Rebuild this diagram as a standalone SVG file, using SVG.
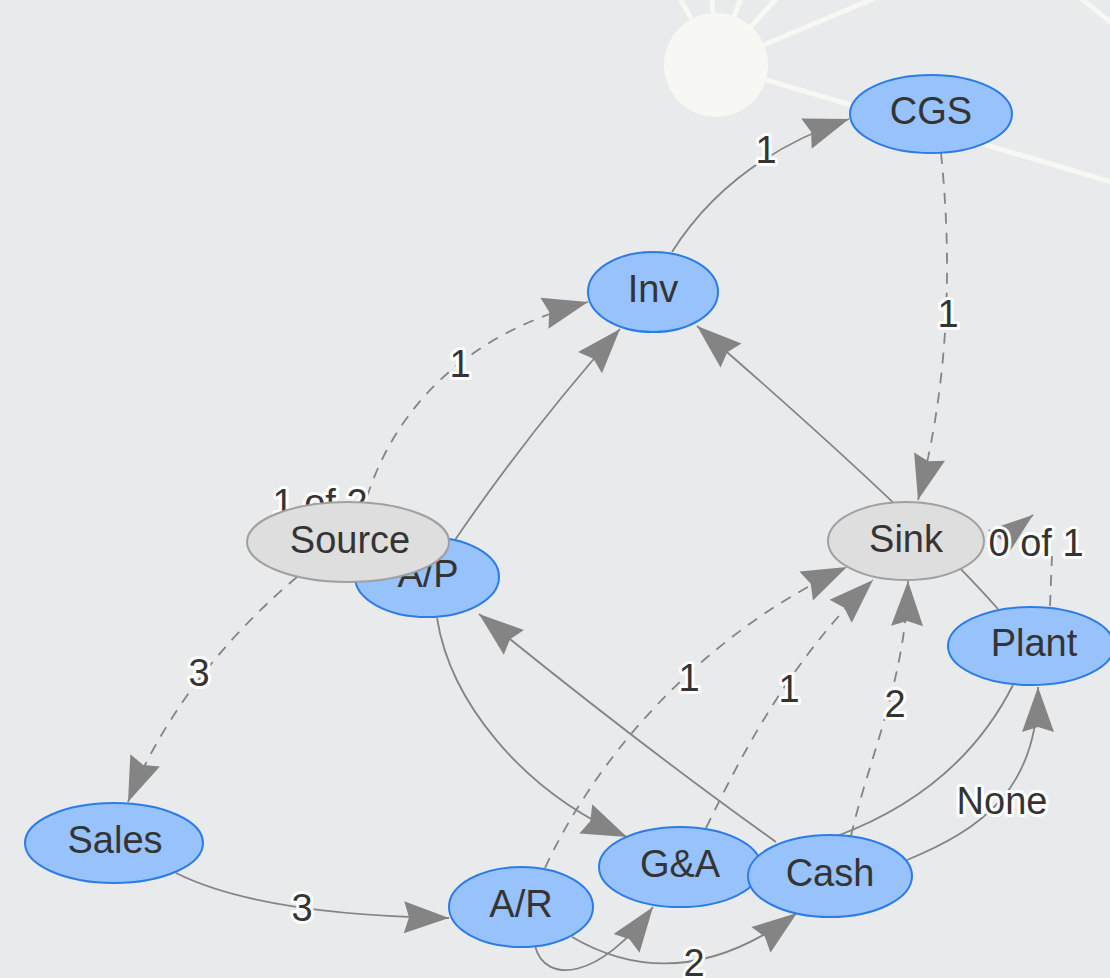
<svg xmlns="http://www.w3.org/2000/svg" width="1110" height="978" viewBox="0 0 1110 978">
  <style>
    .bg { fill: #e9eaec; }
    .hub { fill: #f7f7f3; }
    .spoke { stroke: #f7f7f3; stroke-width: 5; fill: none; }
    .edge { fill: none; stroke: #848484; stroke-width: 1.8; }
    .dash { stroke-dasharray: 11 9; }
    .arrow { marker-end: url(#arrowhead); }
    .elabel { font-family: "Liberation Sans", Arial, sans-serif; font-size: 38px; fill: #343434; text-anchor: middle; stroke: #ffffff; stroke-width: 6; stroke-linejoin: round; paint-order: stroke; }
    .node-blue { fill: #97c2fc; stroke: #2b7ce9; stroke-width: 2; }
    .node-gray { fill: #dedede; stroke: #a0a0a0; stroke-width: 2; }
    .nlabel { font-family: "Liberation Sans", Arial, sans-serif; font-size: 38px; fill: #343434; text-anchor: middle; }
  </style>
  <defs>
    <marker id="arrowhead" markerUnits="userSpaceOnUse" viewBox="-46 -17 47 34" refX="0" refY="0" markerWidth="47" markerHeight="34" orient="auto">
      <path d="M0,0 L-45,16 L-40,0 L-45,-16 Z" fill="#848484"/>
    </marker>
  </defs>

  <rect class="bg" x="0" y="0" width="1110" height="978"/>

  <!-- background hub with its spokes -->
  <g id="hub">
    <line class="spoke" x1="716" y1="65" x2="680" y2="-2"/>
    <line class="spoke" x1="716" y1="65" x2="712" y2="-2"/>
    <line class="spoke" x1="716" y1="65" x2="741" y2="-2"/>
    <line class="spoke" x1="716" y1="65" x2="777" y2="-2"/>
    <line class="spoke" x1="716" y1="65" x2="875" y2="-2"/>
    <line class="spoke" x1="716" y1="65" x2="1115" y2="183"/>
    <line class="spoke" x1="1081" y1="-2" x2="1115" y2="26"/>
    <circle class="hub" cx="716" cy="65" r="52"/>
  </g>

  <!-- connectors -->
  <g id="edges">
    <!-- Inv -> CGS -->
    <path class="edge arrow" d="M672,252 Q730,160 849,119"/>
    <!-- CGS -> Sink -->
    <path class="edge dash arrow" d="M941,153 C952,260 950,380 918,500"/>
    <!-- Source -> Inv -->
    <path class="edge dash arrow" d="M367,497 C400,395 480,330 588,302"/>
    <!-- A/P -> Inv -->
    <path class="edge arrow" d="M455,540 Q530,430 620,329"/>
    <!-- Plant -> Inv (passes behind Sink) -->
    <path class="edge arrow" d="M998,609 Q915,515 697,326"/>
    <!-- Source -> Sales -->
    <path class="edge dash arrow" d="M297,577 C240,625 170,700 128,802"/>
    <!-- Sales -> A/R -->
    <path class="edge arrow" d="M176,873 Q260,915 449,918"/>
    <!-- A/P -> G&A -->
    <path class="edge arrow" d="M437,618 C450,700 520,790 627,837"/>
    <!-- Cash -> A/P -->
    <path class="edge arrow" d="M776,842 Q640,745 479,614"/>
    <!-- A/R -> Sink -->
    <path class="edge dash arrow" d="M545,868 C590,770 690,640 847,567"/>
    <!-- G&A -> Sink -->
    <path class="edge dash arrow" d="M706,828 C730,780 780,670 873,580"/>
    <!-- Cash -> Sink -->
    <path class="edge dash arrow" d="M851,836 C868,760 906,680 908,581"/>
    <!-- Plant -> Cash -->
    <path class="edge" d="M1013,685 Q960,790 837,836"/>
    <!-- Cash -> Plant -->
    <path class="edge arrow" d="M907,860 C980,830 1038,790 1038,687"/>
    <!-- A/R -> G&A -->
    <path class="edge arrow" d="M535,946 C545,985 600,980 653,907"/>
    <!-- A/R -> Cash -->
    <path class="edge arrow" d="M572,937 Q680,1000 797,913"/>
    <!-- Plant -> (0 of 1) -->
    <path class="edge dash" d="M1050,606 L1052,556"/>
    <path class="edge arrow" d="M1010,533 L1033,515"/>

    <!-- connector labels -->
    <text class="elabel" x="766" y="163">1</text>
    <text class="elabel" x="948" y="327">1</text>
    <text class="elabel" x="460" y="377">1</text>
    <text class="elabel" x="199" y="686">3</text>
    <text class="elabel" x="302" y="921">3</text>
    <text class="elabel" x="689" y="691">1</text>
    <text class="elabel" x="789" y="702">1</text>
    <text class="elabel" x="895" y="717">2</text>
    <text class="elabel" x="1002" y="814">None</text>
    <text class="elabel" x="694" y="976">2</text>
    <text class="elabel" x="1036" y="556">0 of 1</text>
    <text class="elabel" x="320" y="516">1 of 2</text>
  </g>

  <!-- nodes -->
  <g id="node-cgs">
    <ellipse class="node-blue" cx="931" cy="114" rx="81" ry="39"/>
    <text class="nlabel" x="931" y="124">CGS</text>
  </g>
  <g id="node-inv">
    <ellipse class="node-blue" cx="653" cy="292" rx="65" ry="40"/>
    <text class="nlabel" x="653" y="302">Inv</text>
  </g>
  <g id="node-ap">
    <ellipse class="node-blue" cx="427" cy="577" rx="72" ry="40"/>
    <text class="nlabel" x="428" y="587">A/P</text>
  </g>
  <g id="node-source">
    <ellipse class="node-gray" cx="348" cy="542" rx="101" ry="40"/>
    <text class="nlabel" x="350" y="553">Source</text>
  </g>
  <g id="node-sink">
    <ellipse class="node-gray" cx="906" cy="541" rx="78" ry="39"/>
    <text class="nlabel" x="906" y="552">Sink</text>
  </g>
  <g id="node-plant">
    <ellipse class="node-blue" cx="1031" cy="646" rx="83" ry="39"/>
    <text class="nlabel" x="1034" y="656">Plant</text>
  </g>
  <g id="node-sales">
    <ellipse class="node-blue" cx="114" cy="843" rx="89" ry="40"/>
    <text class="nlabel" x="115" y="853">Sales</text>
  </g>
  <g id="node-ar">
    <ellipse class="node-blue" cx="521" cy="907" rx="72" ry="40"/>
    <text class="nlabel" x="521" y="917">A/R</text>
  </g>
  <g id="node-ga">
    <ellipse class="node-blue" cx="680" cy="867" rx="81" ry="40"/>
    <text class="nlabel" x="680" y="877">G&amp;A</text>
  </g>
  <g id="node-cash">
    <ellipse class="node-blue" cx="830" cy="876" rx="82" ry="41"/>
    <text class="nlabel" x="830" y="886">Cash</text>
  </g>
</svg>
